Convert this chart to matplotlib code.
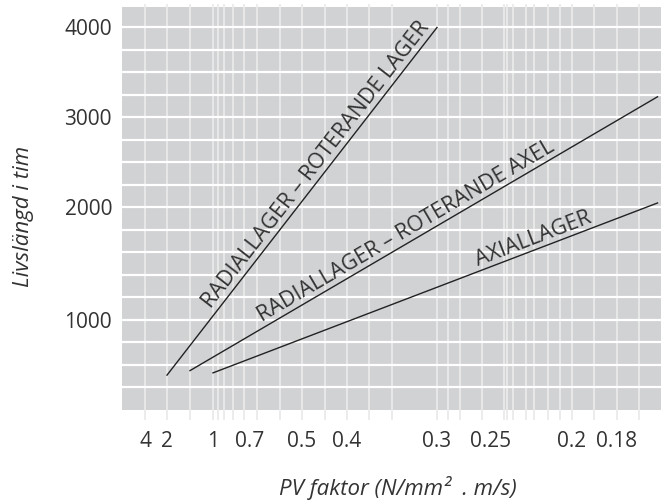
import numpy as np
import matplotlib.pyplot as plt

plt.rcParams['font.family'] = ['Open Sans', 'DejaVu Sans']

# tick labels of the chart
pv_ticks = [4, 2, 1, 0.7, 0.5, 0.4, 0.3, 0.25, 0.2, 0.18]
hour_ticks = [1000, 2000, 3000, 4000]

# the three curves: (PV, hours) at start and end
curve_names = ['RADIALLAGER – ROTERANDE LAGER',
               'RADIALLAGER – ROTERANDE AXEL',
               'AXIALLAGER']
pv_start = [2, 1.5, 1]
pv_end = [0.3, 0.162, 0.162]
hours_start = [510, 550, 530]
hours_end = [4000, 3230, 2050]

# the printed chart has uneven spacing on both axes, so ticks sit at fixed spots
x_tick_pos = [145, 167, 213, 250, 302, 347, 437, 491, 572, 617]
x_grid_pos = [145, 167, 190, 213, 218, 224, 233, 244, 257, 280, 302, 325, 347,
              369, 392, 437, 448, 460, 482, 504, 507, 513, 526, 534, 548, 560,
              572, 594, 617, 639]
x_span = (122, 661)
y_tick_pos = [4, 9, 13, 17]
y_grid_pos = list(range(1, 18))
y_span = (0, 17.91)

# where each curve label sits along its line
label_frac = [0.585, 0.474, 0.729]
label_gap = 4.0  # points between line and text baseline

TEXT = '#333333'


def interp_ext(x, xp, fp):
    xp = np.asarray(xp, float)
    fp = np.asarray(fp, float)
    order = np.argsort(xp)
    xp, fp = xp[order], fp[order]
    x = np.asarray(x, float)
    y = np.interp(x, xp, fp)
    lo = fp[0] + (x - xp[0]) * (fp[1] - fp[0]) / (xp[1] - xp[0])
    hi = fp[-1] + (x - xp[-1]) * (fp[-1] - fp[-2]) / (xp[-1] - xp[-2])
    return np.where(x < xp[0], lo, np.where(x > xp[-1], hi, y))


def x_fwd(v):
    return interp_ext(v, pv_ticks, x_tick_pos)


def x_inv(p):
    return interp_ext(p, x_tick_pos, pv_ticks)


def y_fwd(v):
    return interp_ext(v, hour_ticks, y_tick_pos)


def y_inv(p):
    return interp_ext(p, y_tick_pos, hour_ticks)


fig = plt.figure(figsize=(6.67, 5.03), dpi=100)
ax = fig.add_axes([122 / 667, 1 - 410 / 503, (661 - 122) / 667, (410 - 7) / 503])
ax.set_xscale('function', functions=(x_fwd, x_inv))
ax.set_yscale('function', functions=(y_fwd, y_inv))
# PV falls from left to right, the scale takes care of the direction
ax.set_xlim(float(x_inv(x_span[1])), float(x_inv(x_span[0])))
ax.set_ylim(float(y_inv(y_span[0])), float(y_inv(y_span[1])))

ax.set_facecolor('#d1d2d4')
for s in ax.spines.values():
    s.set_visible(False)

for p in x_grid_pos:
    ax.axvline(float(x_inv(p)), ymin=-0.022, ymax=1.006, clip_on=False,
               color='#eaeaeb', lw=1.3, zorder=1)
for p in y_grid_pos:
    ax.axhline(float(y_inv(p)), color='white', lw=1.6, zorder=1.5)

ax.set_xticks(pv_ticks, labels=[f'{v:g}' for v in pv_ticks])
ax.set_yticks(hour_ticks, labels=[str(v) for v in hour_ticks])
ax.minorticks_off()
ax.tick_params(axis='x', length=0, pad=15, labelsize=15, labelcolor=TEXT)
ax.tick_params(axis='y', length=0, pad=7.2, labelsize=15, labelcolor=TEXT)

ax.set_ylabel('Livslängd i tim', style='italic', fontsize=16, color=TEXT)
ax.yaxis.label.set_va('center')
ax.yaxis.set_label_coords(-0.182, 0.481)
ax.set_xlabel('PV faktor (N/mm²  . m/s)', style='italic', fontsize=16, color=TEXT)
ax.xaxis.label.set_va('center')
ax.xaxis.set_label_coords(0.512, -0.1935)

fig.canvas.draw()
for i, name in enumerate(curve_names):
    xs = [pv_start[i], pv_end[i]]
    ys = [hours_start[i], hours_end[i]]
    ax.plot(xs, ys, color='#222222', lw=1.0, zorder=3)
    d0, d1 = ax.transData.transform(list(zip(xs, ys)))
    ang = np.degrees(np.arctan2(d1[1] - d0[1], d1[0] - d0[0]))
    if ang > 90:
        ang -= 180
    elif ang < -90:
        ang += 180
    mid = d0 + label_frac[i] * (d1 - d0)
    xy = ax.transData.inverted().transform(mid)
    a = np.radians(ang)
    off = (-np.sin(a) * label_gap, np.cos(a) * label_gap)
    ax.annotate(name, xy=xy, xytext=off, textcoords='offset points',
                rotation=ang, rotation_mode='anchor', ha='center', va='baseline',
                fontsize=15.5, color=TEXT, zorder=4)

fig.savefig('out.png', dpi=100)
